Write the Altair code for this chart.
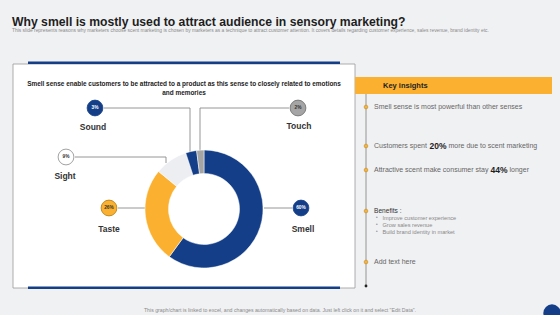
import altair as alt
import pandas as pd

W, H = 560, 315

# ---- data ----
senses = ["Smell", "Taste", "Sight", "Sound", "Touch"]
shares = [60, 26, 9, 3, 2]
seg_colors = ["#143f88", "#fbb12f", "#eceef2", "#143f88", "#a5a5a5"]

title = "Why smell is mostly used to attract audience in sensory marketing?"
subtitle = ("This slide represents reasons why marketers choose scent marketing is chosen by marketers as a technique "
            "to attract customer attention. It covers details regarding customer experience, sales revenue, brand identity etc.")
panel_title = ["Smell sense enable customers to be attracted to a product as this sense to closely related to emotions",
               "and memories"]
insight_header = "Key insights"
insight_plain = ["Smell sense is most powerful than other senses", "Benefits :", "Add text here"]
insight_mixed = [("Customers spent", "20%", "more due to scent marketing"),
                 ("Attractive scent make consumer stay", "44%", "longer")]
benefits = ["Improve  customer experience", "Grow sales revenue", "Build brand  identity in market"]
footer = ('This graph/chart is linked to excel, and changes automatically based on data. '
          'Just left click on it and select "Edit Data".')

# ---- layout (pixel positions) ----
X = alt.Scale(domain=[0, W], nice=False, zero=False)
Y = alt.Scale(domain=[0, H], nice=False, zero=False, reverse=True)

SANS = "Liberation Sans, Arial, sans-serif"


def ex(field="x"):
    return alt.X(f"{field}:Q", scale=X, axis=None)


def ey(field="y"):
    return alt.Y(f"{field}:Q", scale=Y, axis=None)


layers = []

# panel
panel = pd.DataFrame({"x": [13], "x2": [355], "y": [64], "y2": [288]})
layers.append(alt.Chart(panel).mark_rect(fill="white", stroke="#9a9a9a", strokeWidth=0.8).encode(
    x=ex(), x2="x2", y=ey(), y2="y2"))

bars = pd.DataFrame({"x": [28, 28], "x2": [340, 340], "y": [61.5, 286.5], "y2": [64, 289]})
layers.append(alt.Chart(bars).mark_rect(fill="#143f88").encode(x=ex(), x2="x2", y=ey(), y2="y2"))

# key insights band
band = pd.DataFrame({"x": [355], "x2": [552], "y": [77], "y2": [94]})
layers.append(alt.Chart(band).mark_rect(fill="#fbb12f").encode(x=ex(), x2="x2", y=ey(), y2="y2"))

# connectors + timeline
segs = pd.DataFrame({
    "x":  [104, 190, 289, 200, 75, 166, 118, 264, 366],
    "x2": [190, 190, 200, 200, 166, 166, 145, 292, 366],
    "y":  [108, 108, 108, 108, 157, 157, 208, 208, 94],
    "y2": [108, 152, 108, 151, 157, 163, 208, 208, 286],
})
layers.append(alt.Chart(segs).mark_rule(color="#8a8a8a", strokeWidth=0.9).encode(
    x=ex(), x2="x2", y=ey(), y2="y2"))

# donut
donut_df = pd.DataFrame({"sense": senses, "share": shares, "idx": list(range(len(senses)))})
layers.append(alt.Chart(donut_df).mark_arc(radius=59, radius2=35.5, stroke="white", strokeWidth=0.5).encode(
    theta=alt.Theta("share:Q", stack=True),
    order=alt.Order("idx:Q"),
    color=alt.Color("sense:N", scale=alt.Scale(domain=senses, range=seg_colors), legend=None),
    x=alt.value(204), y=alt.value(209)))

# label bubbles
bub = pd.DataFrame({
    "x": [301, 109, 66, 95, 298],
    "y": [208, 208, 157, 108, 108],
    "lx": [303, 109, 65, 93, 299],
    "ly": [229, 229, 176, 127, 126],
    "sense": senses,
    "pct": [f"{v}%" for v in shares],
    "fill": ["#143f88", "#fbb12f", "#ffffff", "#143f88", "#a5a5a5"],
    "stroke": ["#143f88", "#b07a10", "#8a8a8a", "#143f88", "#6a6a6a"],
    "tc": ["#ffffff", "#333333", "#333333", "#ffffff", "#333333"],
})
layers.append(alt.Chart(bub).mark_point(shape="circle", filled=True, size=250, strokeWidth=0.8, opacity=1).encode(
    x=ex(), y=ey(), fill=alt.Fill("fill:N", scale=None), stroke=alt.Stroke("stroke:N", scale=None)))
layers.append(alt.Chart(bub).mark_text(fontSize=4.8, fontWeight="bold", font=SANS, align="center",
                                       baseline="middle").encode(
    x=ex(), y=ey(), text="pct:N", color=alt.Color("tc:N", scale=None)))
layers.append(alt.Chart(bub).mark_text(fontSize=8.5, fontWeight="bold", font=SANS, color="#333333",
                                       align="center", baseline="middle").encode(
    x=ex("lx"), y=ey("ly"), text="sense:N"))

# timeline markers
mk = pd.DataFrame({"x": [366] * 5, "y": [107, 146, 170, 211, 262]})
layers.append(alt.Chart(mk).mark_point(shape="circle", filled=True, size=14, color="#f3b33d",
                                       stroke="#c4891c", strokeWidth=0.6, opacity=1).encode(x=ex(), y=ey()))
end = pd.DataFrame({"x": [366], "y": [286]})
layers.append(alt.Chart(end).mark_point(shape="circle", filled=True, size=8, color="#222222",
                                        opacity=1).encode(x=ex(), y=ey()))

# corner circle
corner = pd.DataFrame({"x": [552], "y": [313]})
layers.append(alt.Chart(corner).mark_point(shape="circle", filled=True, size=300, color="#143f88",
                                           opacity=1).encode(x=ex(), y=ey()))


def text_layer(rows, **kw):
    df = pd.DataFrame(rows, columns=["x", "y", "t"])
    return alt.Chart(df).mark_text(baseline="middle", font=SANS, **kw).encode(x=ex(), y=ey(), text="t:N")


layers.append(text_layer([(12, 21.5, title)], fontSize=12.2, fontWeight="bold", color="#1e1e1e", align="left"))
layers.append(text_layer([(12, 31, subtitle)], fontSize=4.9, color="#8a8a8a", align="left"))
layers.append(text_layer([(184, 84, panel_title[0]), (184, 93, panel_title[1])],
                         fontSize=6.45, fontWeight="bold", color="#222222", align="center"))
layers.append(text_layer([(383, 86, insight_header)], fontSize=7.5, fontWeight="bold",
                         color="#1e1e1e", align="left"))
layers.append(text_layer([(374, 107, insight_plain[0]), (374, 262, insight_plain[2]),
                          (374, 146, insight_mixed[0][0]), (374, 170, insight_mixed[1][0]),
                          (448.5, 146, insight_mixed[0][2]), (509.5, 170, insight_mixed[1][2])],
                         fontSize=7, color="#666666", align="left"))
layers.append(text_layer([(429.5, 145.5, insight_mixed[0][1]), (490.5, 169.5, insight_mixed[1][1])],
                         fontSize=8.5, fontWeight="bold", color="#1e1e1e", align="left"))
layers.append(text_layer([(374, 211, insight_plain[1])], fontSize=6.6, color="#333333", align="left"))
layers.append(text_layer([(376, 218 + 7 * i, "•") for i in range(3)], fontSize=4.5,
                         color="#888888", align="left"))
layers.append(text_layer([(382.5, 218 + 7 * i, b) for i, b in enumerate(benefits)], fontSize=5.6,
                         color="#888888", align="left"))
layers.append(text_layer([(280, 310, footer)], fontSize=5.2, color="#8a8a8a", align="center"))

chart = alt.layer(*layers).properties(
    width=W, height=H, background="#f0f1f3", padding=0,
    autosize=alt.AutoSizeParams(type="none"),
).configure_view(stroke=None)

chart.save("out.html", embed_options={"renderer": "svg", "actions": False})
